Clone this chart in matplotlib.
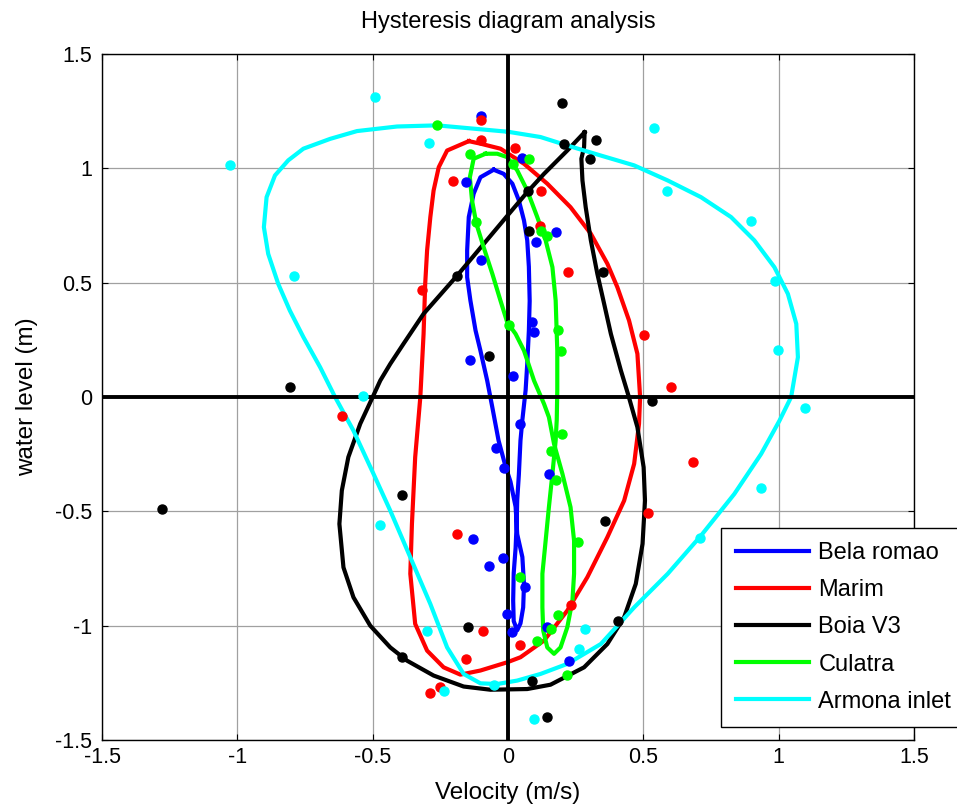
import numpy as np
import matplotlib
matplotlib.use("Agg")
import matplotlib.pyplot as plt

plt.rcParams['font.family'] = ['Liberation Sans', 'DejaVu Sans']

# hysteresis loops (velocity, water level)
bela_loop_x = [-0.053, -0.102, -0.127, -0.145, -0.151, -0.151, -0.139, -0.120, -0.102, -0.077, -0.058,
               -0.035, -0.010, 0.009, 0.028, 0.034, 0.053, 0.059, 0.056, 0.046, 0.034, 0.021, 0.019,
               0.021, 0.028, 0.032, 0.034, 0.040, 0.046, 0.053, 0.065, 0.071, 0.077, 0.080, 0.077,
               0.071, 0.059, 0.040, 0.016, -0.016, -0.053]
bela_loop_y = [0.994, 0.961, 0.889, 0.787, 0.641, 0.524, 0.422, 0.291, 0.203, 0.072, -0.045,
               -0.19, -0.30, -0.37, -0.48, -0.60, -0.70, -0.82, -0.92, -0.99, -1.02, -0.98, -0.89,
               -0.77, -0.66, -0.55, -0.45, -0.34, -0.19, -0.10, 0.03, 0.145, 0.29, 0.42, 0.57,
               0.685, 0.772, 0.86, 0.933, 0.976, 0.994]

marim_loop_x = [-0.145, -0.225, -0.256, -0.275, -0.287, -0.299, -0.306, -0.312, -0.324, -0.343, -0.355,
                -0.361, -0.343, -0.299, -0.238, -0.176, -0.102, -0.003, 0.046, 0.133, 0.219, 0.293,
                0.367, 0.429, 0.466, 0.484, 0.488, 0.478, 0.447, 0.404, 0.367, 0.306, 0.231, 0.145,
                0.059, -0.028, -0.102, -0.145]
marim_loop_y = [1.119, 1.078, 1.005, 0.903, 0.787, 0.641, 0.495, 0.276, 0.0, -0.263, -0.555,
                -0.773, -0.992, -1.109, -1.182, -1.214, -1.196, -1.160, -1.138, -1.065, -0.934, -0.788,
                -0.613, -0.453, -0.292, -0.117, 0.0, 0.189, 0.335, 0.480, 0.583, 0.714, 0.830, 0.933,
                1.020, 1.086, 1.108, 1.119]

boia_loop_x = [0.283, 0.219, 0.133, 0.071, -0.003, -0.188, -0.312, -0.386, -0.435, -0.472, -0.500,
               -0.546, -0.590, -0.614, -0.623, -0.608, -0.571, -0.509, -0.435, -0.373, -0.275, -0.164,
               -0.065, 0.071, 0.157, 0.281, 0.367, 0.429, 0.472, 0.497, 0.506, 0.501, 0.478, 0.444,
               0.417, 0.380, 0.355, 0.330, 0.306, 0.287, 0.275, 0.271, 0.281, 0.283]
boia_loop_y = [1.158, 1.078, 0.976, 0.896, 0.792, 0.531, 0.364, 0.233, 0.145, 0.072, 0.0,
               -0.117, -0.263, -0.409, -0.555, -0.745, -0.876, -1.0, -1.095, -1.153, -1.218, -1.266,
               -1.280, -1.277, -1.258, -1.182, -1.080, -0.963, -0.817, -0.642, -0.453, -0.307, -0.132, 0.01,
               0.116, 0.276, 0.408, 0.539, 0.685, 0.830, 0.947, 1.042, 1.093, 1.158]

culatra_loop_x = [-0.083, -0.127, -0.141, -0.133, -0.117, -0.090, -0.058, -0.028, -0.003, 0.028, 0.059,
                  0.096, 0.133, 0.151, 0.170, 0.201, 0.231, 0.244, 0.244, 0.238, 0.219, 0.194, 0.170,
                  0.145, 0.130, 0.127, 0.127, 0.139, 0.151, 0.164, 0.176, 0.180, 0.182, 0.182, 0.176,
                  0.164, 0.139, 0.108, 0.071, 0.034, -0.003, -0.040, -0.083]
culatra_loop_y = [1.064, 1.042, 0.961, 0.860, 0.758, 0.655, 0.539, 0.422, 0.327, 0.276, 0.203,
                  0.072, -0.030, -0.088, -0.205, -0.336, -0.482, -0.628, -0.773, -0.890, -1.007, -1.095, -1.123,
                  -1.095, -1.021, -0.920, -0.773, -0.628, -0.482, -0.336, -0.19, -0.10, 0.03, 0.203, 0.422,
                  0.568, 0.685, 0.787, 0.903, 0.991, 1.049, 1.064, 1.064]

armona_loop_x = [0.0, -0.262, -0.41, -0.558, -0.657, -0.756, -0.812, -0.861, -0.892, -0.902, -0.886,
                 -0.849, -0.806, -0.756, -0.694, -0.639, -0.571, -0.497, -0.435, -0.361, -0.287, -0.225,
                 -0.164, -0.102, -0.040, 0.034, 0.120, 0.219, 0.343, 0.466, 0.590, 0.713, 0.836, 0.935,
                 1.003, 1.046, 1.071, 1.065, 1.034, 0.984, 0.910, 0.824, 0.713, 0.590, 0.466, 0.343,
                 0.219, 0.120, 0.0]
armona_loop_y = [1.160, 1.188, 1.183, 1.163, 1.129, 1.086, 1.035, 0.969, 0.874, 0.743, 0.626,
                 0.495, 0.378, 0.262, 0.130, 0.0, -0.147, -0.336, -0.497, -0.701, -0.905, -1.095,
                 -1.211, -1.252, -1.255, -1.240, -1.211, -1.167, -1.080, -0.920, -0.773, -0.606, -0.424, -0.249,
                 -0.103, 0.0, 0.174, 0.320, 0.451, 0.568, 0.685, 0.787, 0.874, 0.947, 1.013, 1.056,
                 1.100, 1.137, 1.160]

# measured points
bela_x = [-0.099, -0.157, -0.099, -0.139, 0.053, 0.178, 0.102, 0.090, 0.096, 0.019, 0.046,
          -0.046, -0.016, 0.151, -0.018, 0.061, -0.003, 0.016, 0.145, 0.226, -0.131, -0.071]
bela_y = [1.231, 0.940, 0.600, 0.163, 1.046, 0.721, 0.677, 0.327, 0.283, 0.091, -0.120,
          -0.222, -0.312, -0.338, -0.706, -0.829, -0.951, -1.029, -1.007, -1.155, -0.619, -0.741]

marim_x = [-0.099, -0.099, -0.203, -0.316, 0.024, 0.123, 0.117, 0.220, 0.503, 0.602, 0.685,
           0.517, 0.233, 0.046, -0.612, -0.188, -0.091, -0.155, -0.253, -0.287]
marim_y = [1.210, 1.125, 0.943, 0.469, 1.090, 0.903, 0.749, 0.546, 0.273, 0.046, -0.285,
           -0.507, -0.908, -1.084, -0.085, -0.601, -1.021, -1.145, -1.266, -1.296]

boia_x = [0.198, 0.207, 0.324, 0.303, 0.075, 0.077, 0.351, -0.190, -0.072, -0.806, -1.277,
          -0.390, -0.147, -0.390, 0.531, 0.359, 0.407, 0.087, 0.143]
boia_y = [1.285, 1.108, 1.126, 1.039, 0.900, 0.724, 0.546, 0.528, 0.178, 0.046, -0.489,
          -0.427, -1.007, -1.138, -0.018, -0.540, -0.978, -1.240, -1.401]

culatra_x = [-0.262, -0.141, -0.120, 0.077, 0.019, 0.120, 0.145, 0.184, 0.197, 0.003, 0.198,
             0.157, 0.176, 0.257, 0.046, 0.184, 0.157, 0.108, 0.219]
culatra_y = [1.188, 1.064, 0.765, 1.039, 1.020, 0.724, 0.703, 0.294, 0.203, 0.313, -0.161,
             -0.234, -0.365, -0.636, -0.787, -0.952, -1.014, -1.065, -1.214]

armona_x = [-0.491, -1.028, -0.792, -0.534, -0.472, -0.299, -0.238, -0.050, 0.096, 0.262, 0.283,
            0.710, 0.933, 1.098, 0.997, 0.988, 0.898, 0.586, 0.538, -0.293]
armona_y = [1.310, 1.013, 0.531, 0.005, -0.558, -1.021, -1.287, -1.258, -1.408, -1.102, -1.014,
            -0.618, -0.399, -0.047, 0.206, 0.507, 0.768, 0.899, 1.178, 1.110]

names = ['Bela romao', 'Marim', 'Boia V3', 'Culatra', 'Armona inlet']
colors = ['#0000ff', '#ff0000', '#000000', '#00ff00', '#00ffff']
loops = [(bela_loop_x, bela_loop_y), (marim_loop_x, marim_loop_y), (boia_loop_x, boia_loop_y),
         (culatra_loop_x, culatra_loop_y), (armona_loop_x, armona_loop_y)]
dots = [(bela_x, bela_y), (marim_x, marim_y), (boia_x, boia_y),
        (culatra_x, culatra_y), (armona_x, armona_y)]

fig = plt.figure(figsize=(9.57, 8.05), dpi=100)
ax = fig.add_axes([0.1066, 0.0807, 0.8485, 0.8522])

handles = []
for (lx, ly), c, n in zip(loops, colors, names):
    h, = ax.plot(lx, ly, color=c, lw=3, label=n, zorder=3)
    handles.append(h)
for (dx, dy), c in zip(dots, colors):
    ax.plot(dx, dy, ls='none', marker='o', ms=6.5, color=c, zorder=5)

ax.axhline(0, color='k', lw=2.8, zorder=4)
ax.axvline(0, color='k', lw=2.8, zorder=4)

ax.set_xlim(-1.5, 1.5)
ax.set_ylim(-1.5, 1.5)
ticks = [-1.5, -1, -0.5, 0, 0.5, 1, 1.5]
tick_labels = ['-1.5', '-1', '-0.5', '0', '0.5', '1', '1.5']
ax.set_xticks(ticks)
ax.set_xticklabels(tick_labels)
ax.set_yticks(ticks)
ax.set_yticklabels(tick_labels)
ax.tick_params(direction='in', length=4, width=0.8, top=True, right=True, labelsize=15.5)
ax.tick_params(axis='x', pad=5)
ax.tick_params(axis='y', pad=7)
ax.grid(True, color='#a0a0a0', lw=0.9, zorder=0)
ax.set_axisbelow(True)
for s in ax.spines.values():
    s.set_linewidth(1.0)

ax.set_title('Hysteresis diagram analysis', fontsize=17, pad=19)
ax.set_xlabel('Velocity (m/s)', fontsize=17.5, labelpad=10)
ax.set_ylabel('water level (m)', fontsize=17.5, labelpad=12)

leg = fig.legend(handles=handles, loc='lower left', bbox_to_anchor=(0.7534, 0.0965),
                 borderaxespad=0, fontsize=17, handlelength=3.1, handletextpad=0.4,
                 labelspacing=0.64, borderpad=0.62, fancybox=False, framealpha=1, edgecolor='k')
leg.get_frame().set_linewidth(1.0)
for line in leg.get_lines():
    line.set_linewidth(3)

fig.savefig('out.png', dpi=100)
